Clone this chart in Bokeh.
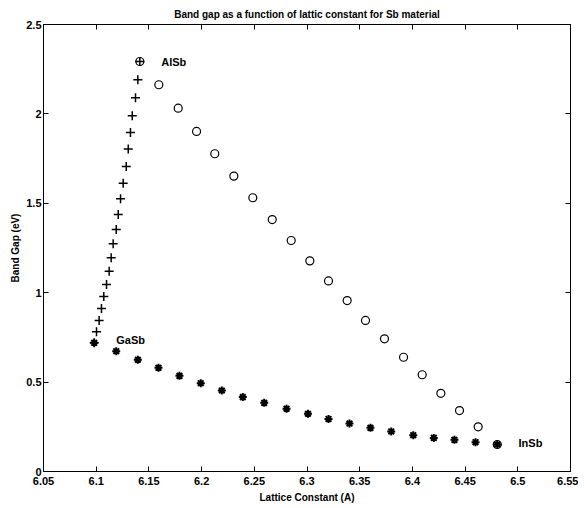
from bokeh.plotting import figure
from bokeh.models import LinearAxis, Label, FixedTicker
from bokeh.embed import file_html
from bokeh.resources import INLINE

# GaSb -> AlSb (plus markers)
gaal_x = [6.0981, 6.1003, 6.1028, 6.1050, 6.1072, 6.1098, 6.1123, 6.1142, 6.1161, 6.1190,
          6.1209, 6.1231, 6.1256, 6.1285, 6.1304, 6.1325, 6.1342, 6.1373, 6.1395, 6.1414]
gaal_y = [0.720, 0.781, 0.844, 0.912, 0.979, 1.046, 1.120, 1.195, 1.274, 1.353,
          1.437, 1.525, 1.612, 1.706, 1.803, 1.896, 1.989, 2.090, 2.191, 2.293]

# AlSb -> InSb (circle markers)
alin_x = [6.1414, 6.1594, 6.1778, 6.1952, 6.2125, 6.2306, 6.2486, 6.2670, 6.2850, 6.3027,
          6.3204, 6.3381, 6.3555, 6.3735, 6.3916, 6.4093, 6.4270, 6.4447, 6.4624, 6.4805]
alin_y = [2.293, 2.163, 2.032, 1.902, 1.777, 1.652, 1.531, 1.409, 1.292, 1.178,
          1.066, 0.956, 0.845, 0.742, 0.639, 0.541, 0.437, 0.341, 0.250, 0.151]

# GaSb -> InSb (asterisk markers)
gain_x = [6.0981, 6.1190, 6.1395, 6.1591, 6.1790, 6.1992, 6.2192, 6.2391, 6.2594, 6.2806,
          6.3009, 6.3204, 6.3403, 6.3602, 6.3799, 6.4008, 6.4203, 6.4399, 6.4599, 6.4805]
gain_y = [0.720, 0.673, 0.625, 0.580, 0.535, 0.494, 0.453, 0.416, 0.384, 0.351,
          0.323, 0.294, 0.268, 0.244, 0.224, 0.203, 0.188, 0.177, 0.164, 0.151]

# material labels
mat_names = ["AlSb", "GaSb", "InSb"]
mat_x = [6.1617, 6.119, 6.5007]
mat_y = [2.293, 0.733, 0.158]

x_ticks = [6.05, 6.1, 6.15, 6.2, 6.25, 6.3, 6.35, 6.4, 6.45, 6.5, 6.55]
y_ticks = [0, 0.5, 1, 1.5, 2, 2.5]

FONT = "Liberation Sans"

p = figure(width=578, height=506, x_range=(6.05, 6.55), y_range=(0, 2.5),
           output_backend="svg", toolbar_location=None,
           min_border_left=43, min_border_right=8, min_border_top=24, min_border_bottom=35,
           title="Band gap as a function of lattic constant for Sb material")
p.title.align = "center"
p.title.vertical_align = "middle"
p.title.text_font = FONT
p.title.text_font_size = "10px"
p.title.text_font_style = "bold"
p.title.text_color = "black"
p.title.standoff = 8
p.grid.visible = False
p.outline_line_color = "black"
p.outline_line_width = 1
p.background_fill_color = "white"
p.border_fill_color = "white"

for ax, ticks in ((p.xaxis[0], x_ticks), (p.yaxis[0], y_ticks)):
    ax.ticker = FixedTicker(ticks=ticks)
    ax.major_tick_in = 5
    ax.major_tick_out = 0
    ax.minor_tick_in = 0
    ax.minor_tick_out = 0
    ax.axis_line_color = "black"
    ax.major_label_text_font = FONT
    ax.major_label_text_font_size = "11px"
    ax.major_label_text_font_style = "bold"
    ax.major_label_text_color = "black"
    ax.axis_label_text_font = FONT
    ax.axis_label_text_font_size = "10px"
    ax.axis_label_text_font_style = "bold"
    ax.axis_label_text_color = "black"

p.xaxis[0].major_label_standoff = 5
p.yaxis[0].major_label_standoff = 2
p.xaxis[0].axis_label_standoff = 4
p.yaxis[0].axis_label_standoff = 2
p.xaxis[0].axis_label = "Lattice Constant (A)"
p.yaxis[0].axis_label = "Band Gap (eV)"

for loc, ticks in (("above", x_ticks), ("right", y_ticks)):
    ax = LinearAxis(ticker=FixedTicker(ticks=ticks), major_tick_in=5, major_tick_out=0,
                    minor_tick_in=0, minor_tick_out=0, major_label_text_font_size="1px",
                    major_label_text_color=None, major_label_standoff=0,
                    axis_line_color="black")
    p.add_layout(ax, loc)

p.scatter(gaal_x, gaal_y, marker="cross", size=9, line_color="black", line_width=1.5)
p.scatter(alin_x, alin_y, marker="circle", size=8, fill_color=None, line_color="black", line_width=1.2)
p.scatter(gain_x, gain_y, marker="asterisk", size=8, line_color="black", line_width=2)

for name, xx, yy in zip(mat_names, mat_x, mat_y):
    p.add_layout(Label(x=xx, y=yy, text=name, text_font=FONT, text_font_size="11px",
                       text_font_style="bold", text_baseline="middle", text_color="black"))

open("out.html", "w").write(file_html(p, INLINE))
